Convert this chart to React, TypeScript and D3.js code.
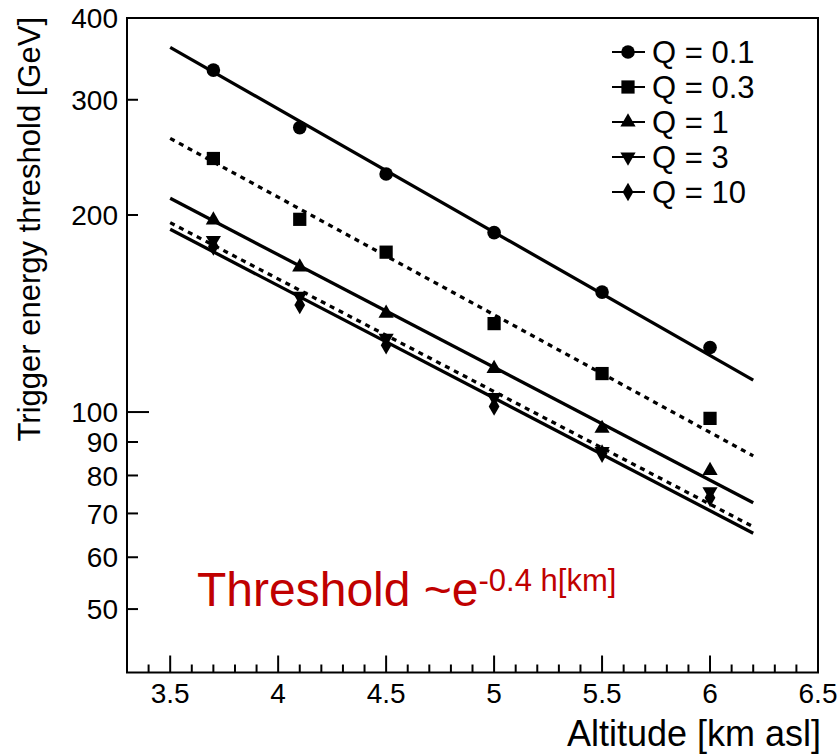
import React from "react";
import * as d3 from "d3";

// ---- data ----
const altitudes = [3.7, 4.1, 4.5, 5.0, 5.5, 6.0];
const seriesNames = ["Q = 0.1", "Q = 0.3", "Q = 1", "Q = 3", "Q = 10"];
const q01 = [333, 272, 231, 188, 152.5, 125.5];
const q03 = [244, 197, 175.5, 136.5, 114.5, 97.8];
const q1 = [196.5, 166.5, 141.5, 116.5, 94.4, 81.4];
const q3 = [183, 150.4, 129.7, 105.3, 87.1, 75.6];
const q10 = [179, 145.7, 126.5, 102, 86.4, 74];
const seriesValues = [q01, q03, q1, q3, q10];
const fitRange = [3.5, 6.2];
const fitStart = [360.7, 261.9, 212.1, 194.7, 190.2];
const fitEnd = [111.9, 85.7, 72.7, 66.8, 65.3];
const fitDashed = [false, true, false, true, false];
const markerKinds = ["circle", "square", "triangleUp", "triangleDown", "diamond"];
const yTickValues = [50, 60, 70, 80, 90, 100, 200, 300, 400];
const xMajorTicks = [3.5, 4, 4.5, 5, 5.5, 6, 6.5];

const W = 838;
const H = 754;
const M = { left: 127, right: 818, top: 18, bottom: 672.5 };
const FONT = "'Liberation Sans', Arial, Helvetica, sans-serif";

const x = d3.scaleLinear().domain([3.3, 6.5]).range([M.left, M.right]);
const y = d3.scaleLog().domain([40, 400]).range([M.bottom, M.top]);

function markerPath(kind: string) {
  if (kind === "circle") return d3.symbol(d3.symbolCircle, 145)()!;
  if (kind === "square") return d3.symbol(d3.symbolSquare, 175)()!;
  if (kind === "triangleUp" || kind === "triangleDown") return d3.symbol(d3.symbolTriangle, 100)()!;
  return d3.symbol(d3.symbolDiamond, 100)()!;
}

function Marker({ kind, cx, cy }: { kind: string; cx: number; cy: number }) {
  const rot = kind === "triangleDown" ? 180 : 0;
  return <path d={markerPath(kind)} transform={`translate(${cx},${cy}) rotate(${rot})`} fill="#000" />;
}

export default function App() {
  const line = d3
    .line<[number, number]>()
    .x((d) => x(d[0]))
    .y((d) => y(d[1]));

  const xMinor = d3.range(34, 65).map((v) => v / 10).filter((v) => !xMajorTicks.some((m) => Math.abs(m - v) < 1e-6));

  return (
    <svg width={W} height={H} style={{ position: "absolute", left: 0, top: 0, background: "#fff" }} fontFamily={FONT}>
      <rect x={0} y={0} width={W} height={H} fill="#fff" />
      {/* fit lines */}
      {fitStart.map((s, i) => (
        <path
          key={"fit" + i}
          d={line([
            [fitRange[0], s],
            [fitRange[1], fitEnd[i]],
          ])!}
          stroke="#000"
          strokeWidth={3.3}
          fill="none"
          strokeDasharray={fitDashed[i] ? "5,5" : undefined}
        />
      ))}
      {/* markers */}
      {seriesValues.map((vals, i) =>
        vals.map((v, j) => <Marker key={`m${i}-${j}`} kind={markerKinds[i]} cx={x(altitudes[j])} cy={y(v)} />)
      )}
      {/* frame */}
      <rect x={M.left} y={M.top} width={M.right - M.left} height={M.bottom - M.top} fill="none" stroke="#000" strokeWidth={2} />
      {/* x ticks */}
      {xMajorTicks.map((t) => (
        <g key={"xt" + t}>
          <line x1={x(t)} x2={x(t)} y1={M.bottom} y2={M.bottom - 17} stroke="#000" strokeWidth={2} />
          <text x={x(t)} y={703} textAnchor="middle" fontSize={28}>
            {String(t)}
          </text>
        </g>
      ))}
      {xMinor.map((t) => (
        <line key={"xm" + t} x1={x(t)} x2={x(t)} y1={M.bottom} y2={M.bottom - 8} stroke="#000" strokeWidth={2} />
      ))}
      {/* y ticks */}
      {yTickValues.map((t) => (
        <g key={"yt" + t}>
          {t !== 400 && (
            <line x1={M.left} x2={M.left + (t === 100 ? 22 : 11)} y1={y(t)} y2={y(t)} stroke="#000" strokeWidth={2} />
          )}
          <text x={118} y={y(t)} dy="0.36em" textAnchor="end" fontSize={28}>
            {String(t)}
          </text>
        </g>
      ))}
      {/* axis titles */}
      <text x={821} y={746} textAnchor="end" fontSize={36}>
        Altitude [km asl]
      </text>
      <text transform="translate(40,17) rotate(-90)" textAnchor="end" fontSize={31}>
        Trigger energy threshold [GeV]
      </text>
      {/* legend */}
      {seriesNames.map((name, i) => {
        const ly = 52 + i * 35;
        return (
          <g key={"lg" + i}>
            <line x1={612} x2={645} y1={ly} y2={ly} stroke="#000" strokeWidth={2} />
            <Marker kind={markerKinds[i]} cx={628} cy={ly} />
            <text x={652} y={ly} dy="0.36em" fontSize={31}>
              {name}
            </text>
          </g>
        );
      })}
      {/* annotation */}
      <text x={197} y={606} fill="#c00000" fontSize={48}>
        Threshold ~e
        <tspan fontSize={31} dy={-15}>
          -0.4 h[km]
        </tspan>
      </text>
    </svg>
  );
}
